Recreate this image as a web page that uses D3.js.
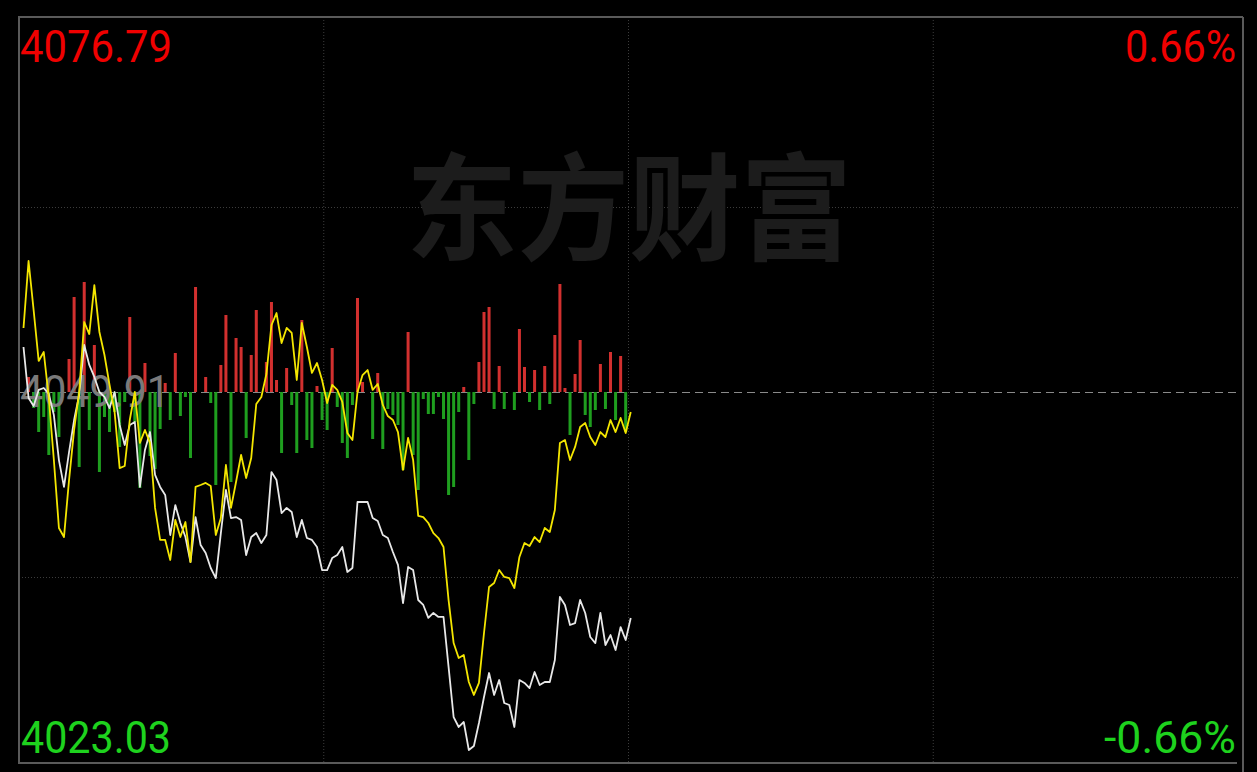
<!DOCTYPE html>
<html><head><meta charset="utf-8">
<script src="https://cdn.jsdelivr.net/npm/d3@7"></script>
<style>html,body{margin:0;padding:0;background:#000;}svg{display:block;}</style>
</head><body><svg id="c" width="1257" height="772"></svg>
<script>
// ---- data ----
const prevClose = 4049.91;
const yMax = 4076.79;
const yMin = 4023.03;
const topLeftLabel = "4076.79";
const bottomLeftLabel = "4023.03";
const midLabel = "4049.91";
const topRightLabel = "0.66%";
const bottomRightLabel = "-0.66%";
const watermarkText = "东方财富";
const minutesPerDay = 241;

const priceSeries = [
4053.17,4049.48,4048.90,4050.06,4050.20,4049.77,4048.24,4044.98,4043.03,4045.56,
4047.88,4049.69,4053.32,4051.87,4051.00,4049.91,4049.55,4048.75,4049.91,4047.52,
4046.07,4047.52,4047.74,4043.03,4045.71,4047.01,4043.90,4043.03,4042.45,4039.55,
4041.72,4040.42,4039.40,4037.59,4040.85,4038.82,4038.25,4037.16,4036.43,4039.69,
4042.81,4040.78,4040.85,4040.64,4038.10,4039.40,4039.69,4038.97,4039.55,4044.11,
4043.53,4041.14,4041.51,4041.22,4039.40,4040.64,4039.33,4039.19,4038.68,4037.01,
4037.01,4037.88,4038.10,4038.68,4036.87,4037.16,4041.94,4041.94,4041.94,4040.78,
4040.56,4039.55,4039.33,4038.32,4037.38,4034.62,4037.23,4037.01,4034.84,4034.48,
4033.54,4033.90,4033.61,4033.61,4029.99,4026.36,4025.64,4026.00,4023.97,4024.26,
4025.93,4027.81,4029.55,4027.96,4029.04,4027.38,4027.23,4025.64,4029.04,4028.83,
4028.46,4029.62,4028.68,4028.90,4028.90,4030.49,4035.06,4034.48,4033.03,4033.17,
4034.84,4033.90,4032.16,4031.72,4033.90,4031.58,4032.30,4031.22,4032.88,4031.94,
4033.54
];

const avgSeries = [
4054.55,4059.40,4055.85,4052.16,4052.81,4049.48,4044.98,4040.06,4039.40,4043.53,
4047.16,4049.91,4054.98,4054.11,4057.66,4054.26,4052.59,4050.42,4048.46,4044.40,
4044.55,4047.88,4049.91,4046.22,4047.16,4046.22,4041.51,4039.19,4039.19,4037.74,
4040.64,4039.40,4040.49,4037.59,4043.03,4043.17,4043.32,4043.10,4039.55,4040.78,
4044.62,4041.51,4043.39,4045.35,4043.68,4045.13,4049.04,4049.55,4051.21,4054.76,
4055.63,4053.46,4054.55,4054.19,4050.78,4054.91,4053.17,4051.29,4052.01,4050.78,
4049.11,4050.42,4050.06,4049.19,4046.94,4046.43,4049.91,4051.14,4051.50,4050.06,
4050.49,4048.97,4048.17,4047.88,4047.01,4044.26,4046.58,4044.98,4040.93,4040.85,
4040.42,4039.69,4039.33,4038.68,4034.84,4031.72,4030.64,4030.85,4028.90,4027.96,
4028.83,4032.45,4035.78,4036.07,4037.01,4036.51,4036.43,4035.71,4037.96,4038.97,
4038.75,4039.40,4039.04,4040.06,4039.77,4041.36,4046.22,4046.43,4044.98,4045.93,
4047.37,4047.66,4046.65,4046.07,4047.01,4046.65,4047.88,4047.01,4048.03,4046.94,
4048.46
];

const barSeries = [
0,15,-16,-40,-25,-63,-20,-45,0,33,
95,-75,110,-38,47,-80,-25,-40,-20,-55,
-10,75,-30,-96,29,-64,-77,-37,9,-28,
39,-24,-5,-66,105,0,15,-11,-93,27,
77,-90,54,45,-46,37,82,0,30,90,
12,-61,24,-13,-61,72,-48,-56,6,-28,
-38,44,-15,-51,-66,-13,94,10,0,-47,
19,-57,-17,-23,-33,-78,60,-63,-98,-7,
-22,-22,-5,-27,-103,-95,-20,5,-68,-12,
30,80,85,-17,26,-17,0,-18,63,25,
-10,22,-18,26,-12,57,108,4,-43,18,
52,-23,-35,-18,28,-17,40,-28,36,-40,
0
];
const barDomain = [-120, 120];

// ---- drawing ----
const svg = d3.select("#c");
svg.append("rect").attr("width",1257).attr("height",772).attr("fill","#000");

const plot = {left:19, right:1238, top:21, bottom:763};
const x = d3.scaleLinear().domain([0, minutesPerDay-1]).range([23.5, 1238]);
const y = d3.scaleLinear().domain([yMin, yMax]).range([plot.bottom, plot.top]);
const midY = y(prevClose);
const yb = d3.scaleLinear().domain(barDomain).range([midY + 120, midY - 120]);
const xGrid = d3.scaleLinear().domain([0,4]).range([plot.left, plot.right]);

// grid
const g = svg.append("g");
[1,2,3].forEach(k => {
  g.append("line").attr("x1", xGrid(k)).attr("x2", xGrid(k))
   .attr("y1", 17).attr("y2", 763)
   .attr("stroke","#3c3c3c").attr("stroke-width",1).attr("stroke-dasharray","1,2");
});
[yMax - (yMax-prevClose)/2, prevClose - (prevClose-yMin)/2].forEach(v => {
  g.append("line").attr("x1", plot.left).attr("x2", plot.right)
   .attr("y1", Math.round(y(v))+0.5).attr("y2", Math.round(y(v))+0.5)
   .attr("stroke","#3c3c3c").attr("stroke-width",1).attr("stroke-dasharray","1,2");
});

// watermark
svg.append("text").text(watermarkText)
  .attr("x", 629).attr("y", 251)
  .attr("text-anchor","middle")
  .attr("font-family","'Noto Sans CJK SC', sans-serif")
  .attr("font-weight","bold").attr("font-size",116)
  .attr("textLength",446).attr("lengthAdjust","spacingAndGlyphs")
  .attr("fill","#1c1c1c");

// mid dashed line
svg.append("line").attr("x1", plot.left).attr("x2", plot.right)
  .attr("y1", Math.round(midY)+0.5).attr("y2", Math.round(midY)+0.5)
  .attr("stroke","#8a8a8a").attr("stroke-width",1).attr("stroke-dasharray","8,5");

// bars
svg.append("g").selectAll("rect").data(barSeries).join("rect")
  .attr("x", (d,i) => x(i) - 1.5)
  .attr("width", 3)
  .attr("y", d => d >= 0 ? yb(d) : midY)
  .attr("height", d => Math.abs(yb(d) - yb(0)))
  .attr("fill", d => d >= 0 ? "#d2302f" : "#1f9e1f");

// mid label
svg.append("text").text(midLabel)
  .attr("x", 20).attr("y", 407)
  .attr("font-family","Roboto, sans-serif").attr("font-size",45)
  .attr("textLength",150).attr("lengthAdjust","spacingAndGlyphs")
  .attr("fill","#7a7a7a");

// lines
const line = d3.line().x((d,i)=>x(i)).y(d=>y(d));
svg.append("path").datum(priceSeries).attr("d", line)
  .attr("fill","none").attr("stroke","#e8e8e8").attr("stroke-width",1.8).attr("stroke-linejoin","round");
svg.append("path").datum(avgSeries).attr("d", line)
  .attr("fill","none").attr("stroke","#f4e600").attr("stroke-width",1.8).attr("stroke-linejoin","round");

// labels
const lab = (t, xx, yy, anchor, col, len) => svg.append("text").text(t)
  .attr("x", xx).attr("y", yy).attr("text-anchor", anchor)
  .attr("font-family","Roboto, sans-serif").attr("font-size",45)
  .attr("textLength", len).attr("lengthAdjust","spacingAndGlyphs")
  .attr("fill", col);
lab(topLeftLabel, 20, 62, "start", "#f00000", 152);
lab(bottomLeftLabel, 21, 753, "start", "#1ed21e", 150);
lab(topRightLabel, 1236, 62, "end", "#f00000", 111);
lab(bottomRightLabel, 1236, 753, "end", "#1ed21e", 132);

// frame
const fr = svg.append("g").attr("stroke","#5a5a5a").attr("stroke-width",2).attr("fill","none");
fr.append("line").attr("x1",18).attr("x2",1243).attr("y1",17).attr("y2",17);
fr.append("line").attr("x1",19).attr("x2",19).attr("y1",17).attr("y2",763);
fr.append("line").attr("x1",18).attr("x2",1237).attr("y1",763).attr("y2",763);
fr.append("line").attr("x1",1243).attr("x2",1243).attr("y1",17).attr("y2",772);
</script></body></html>
